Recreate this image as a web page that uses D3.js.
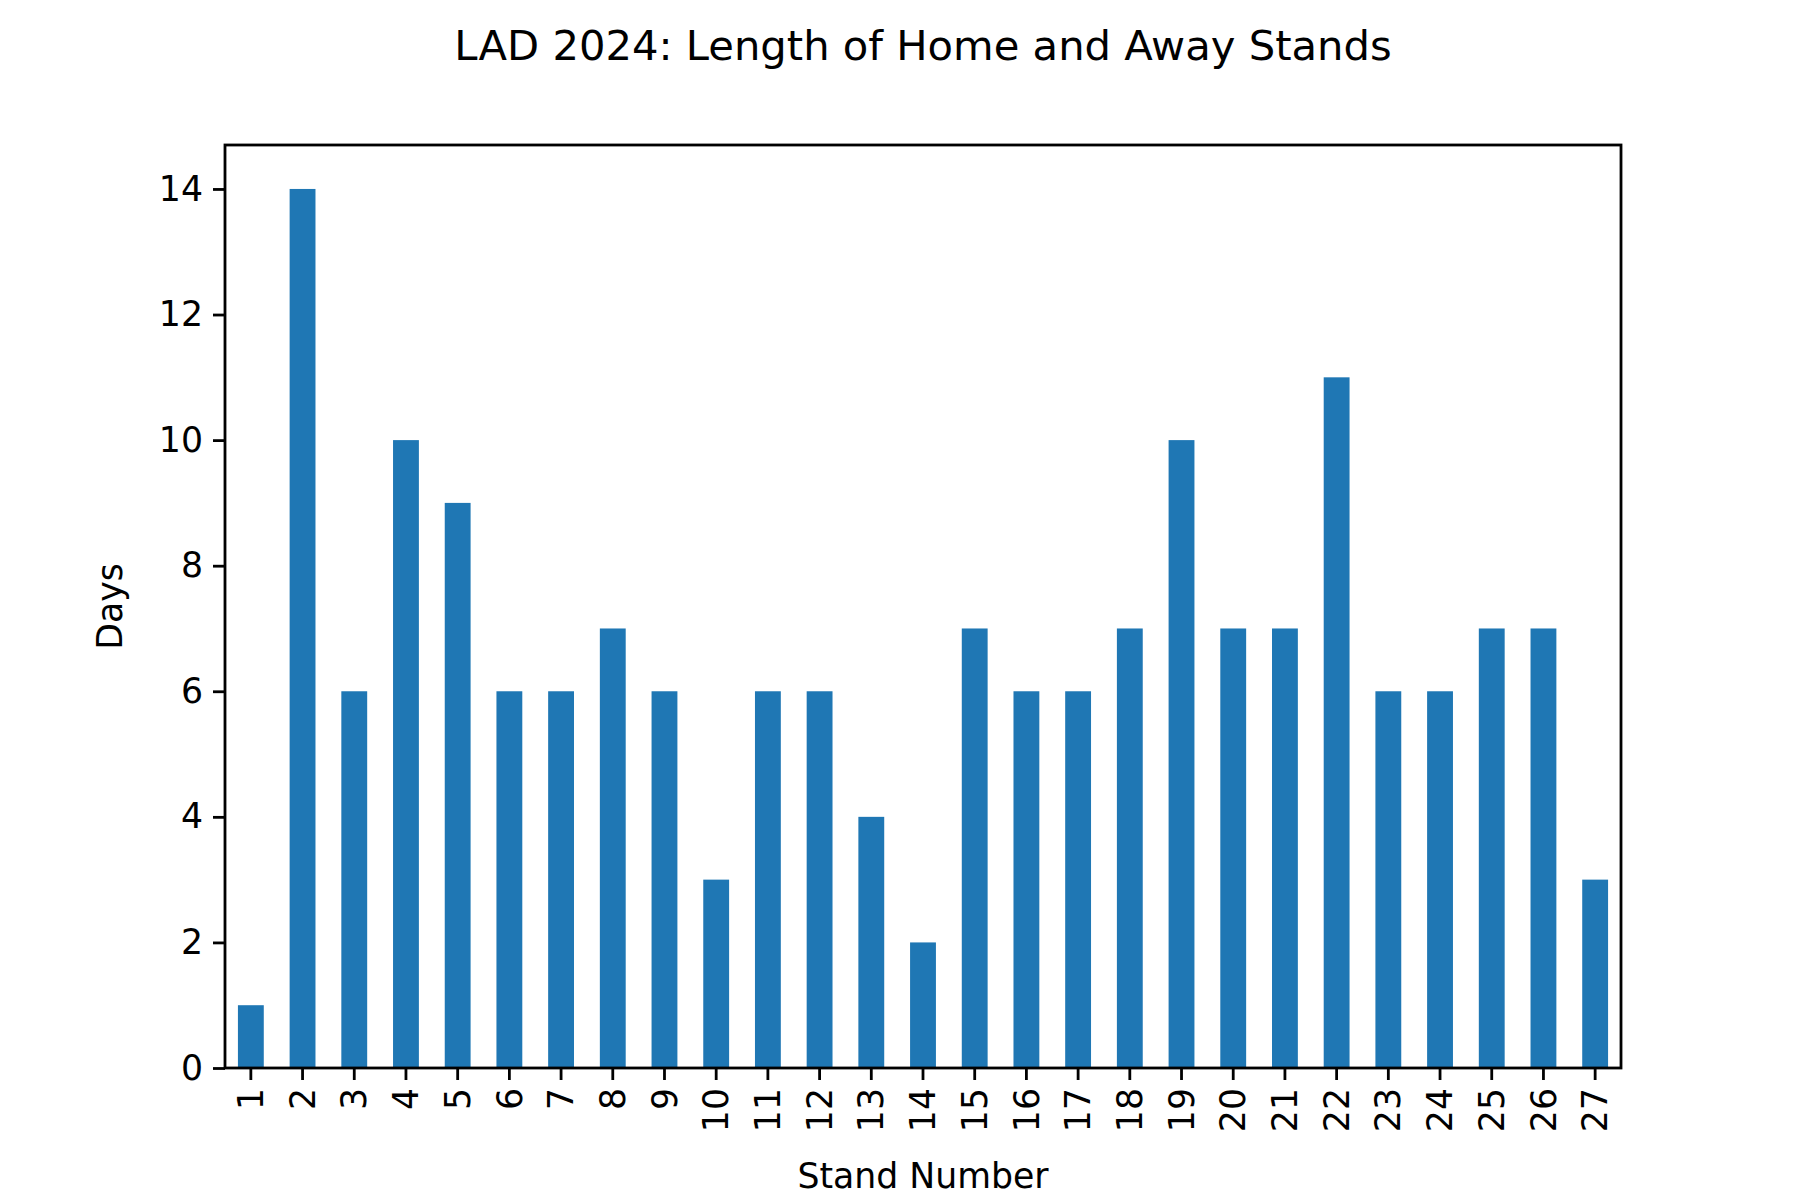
<!DOCTYPE html>
<html><head><meta charset="utf-8">
<script src="https://cdn.jsdelivr.net/npm/d3@7"></script>
<style>body{margin:0;background:#fff}text{font-family:"DejaVu Sans",sans-serif}</style>
</head><body>
<script>
const stands = d3.range(1, 28).map(String);
const days = [1,14,6,10,9,6,6,7,6,3,6,6,4,2,7,6,6,7,10,7,7,11,6,6,7,7,3];
const yTicks = [0,2,4,6,8,10,12,14];

const width = 1800, height = 1200;
const margin = {top: 145, left: 225, right: 1800 - 1621, bottom: 1200 - 1068};
const pw = width - margin.left - margin.right, ph = height - margin.top - margin.bottom;

const svg = d3.select("body").append("svg").attr("width", width).attr("height", height);
const g = svg.append("g").attr("transform", `translate(${margin.left},${margin.top})`);

const x = d3.scaleBand().domain(stands).range([0, pw]).paddingInner(0.5).paddingOuter(0.25);
const y = d3.scaleLinear().domain([0, 14.7]).range([ph, 0]);

g.selectAll("rect").data(days).enter().append("rect")
  .attr("x", (d, i) => x(stands[i]))
  .attr("y", d => y(d))
  .attr("width", x.bandwidth())
  .attr("height", d => ph - y(d))
  .attr("fill", "#1f77b4");

const fs = 34.7;
const xa = g.append("g").attr("transform", `translate(0,${ph})`)
  .call(d3.axisBottom(x).tickSize(12).tickPadding(8));
xa.selectAll("text").attr("font-size", fs).attr("transform", "rotate(-90)")
  .attr("text-anchor", "end").attr("dy", "0.35em").attr("x", -20).attr("y", 0);
const ya = g.append("g").call(d3.axisLeft(y).tickValues(yTicks).tickSize(12).tickPadding(10));
ya.selectAll("text").attr("font-size", fs);
[xa, ya].forEach(a => { a.select(".domain").remove(); a.selectAll("line").attr("stroke-width", 2.8); });

g.append("rect").attr("width", pw).attr("height", ph).attr("fill", "none")
  .attr("stroke", "#000").attr("stroke-width", 2.8);

svg.append("text").attr("x", margin.left + pw / 2).attr("y", 60).attr("text-anchor", "middle")
  .attr("font-size", 41.7).text("LAD 2024: Length of Home and Away Stands");
svg.append("text").attr("x", margin.left + pw / 2).attr("y", 1188).attr("text-anchor", "middle")
  .attr("font-size", fs).text("Stand Number");
svg.append("text").attr("transform", `translate(122,${margin.top + ph / 2}) rotate(-90)`)
  .attr("text-anchor", "middle").attr("font-size", fs).text("Days");
</script>
</body></html>
